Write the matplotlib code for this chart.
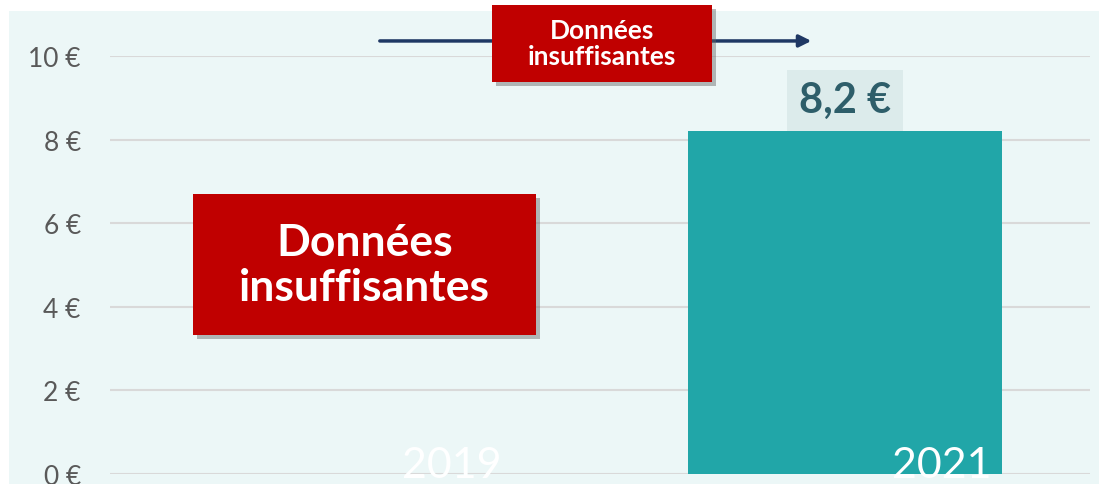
import matplotlib.pyplot as plt
import matplotlib.patheffects as pe
from matplotlib.patches import Rectangle

plt.rcParams['font.family'] = ['Lato', 'DejaVu Sans']

years = ['2019', '2021']
values = [None, 8.2]   # 2019: données insuffisantes
yticks = [0, 2, 4, 6, 8, 10]

bg = '#ECF7F7'
bar_color = '#21A6A8'
red = '#C00000'
navy = '#1F3864'

fig = plt.figure(figsize=(10.99, 4.85), dpi=100)
fig.patch.set_facecolor('white')
fig.add_artist(Rectangle((9 / 1099, 0), 1, 1 - 12 / 485, transform=fig.transFigure,
                         facecolor=bg, edgecolor='none', zorder=0))

ax = fig.add_axes([110 / 1099, 10 / 485, 980 / 1099, 418 / 485])
ax.set_facecolor('none')
ax.set_xlim(-0.5, 1.5)
ax.set_ylim(0, 10)

for i, v in enumerate(values):
    if v is not None:
        ax.bar(i, v, width=0.64, color=bar_color, zorder=2)
        ax.annotate(f'{v:.1f} €'.replace('.', ','), xy=(i, v), xytext=(0, 8.5),
                    textcoords='offset points', ha='center', va='bottom',
                    fontsize=30, fontweight='bold', color='#2E5E6A', zorder=4,
                    bbox=dict(boxstyle='square,pad=0.28', fc='#DCEBEB', ec='none'))
    ax.text(i + 0.30, -0.07, years[i], ha='right', va='baseline', fontsize=31,
            color='white', zorder=3)

ax.set_yticks(yticks)
ax.set_yticklabels([f'{t} €' for t in yticks], fontsize=19, color='#595959')
ax.set_xticks([])
ax.tick_params(axis='y', length=0, pad=21)
ax.grid(axis='y', color='#D9D9D9', linewidth=1.5, zorder=1)
for s in ax.spines.values():
    s.set_visible(False)

shadow = [pe.withSimplePatchShadow(offset=(3, -3), shadow_rgbFace='#666666', alpha=0.45)]

# big box over 2019
big = Rectangle((-0.331, 3.33), 0.70, 3.37, facecolor=red, edgecolor='none',
                zorder=5, path_effects=shadow)
ax.add_patch(big)
ax.text(0.019, 5.01, 'Données\ninsuffisantes', ha='center', va='center',
        fontsize=32, fontweight='bold', color='white', zorder=6, linespacing=1.15)

# arrow with small box
ax.annotate('', xy=(0.937, 10.36), xytext=(0.045, 10.36), annotation_clip=False,
            arrowprops=dict(arrowstyle='-|>', color=navy, lw=2.5, mutation_scale=18))
small = Rectangle((0.280, 9.38), 0.449, 1.84, facecolor=red, edgecolor='none',
                  zorder=5, path_effects=shadow, clip_on=False)
ax.add_patch(small)
ax.text(0.504, 10.30, 'Données\ninsuffisantes', ha='center', va='center',
        fontsize=19, fontweight='bold', color='white', zorder=6, linespacing=1.1)

fig.savefig('out.png', dpi=100, facecolor=fig.get_facecolor())
